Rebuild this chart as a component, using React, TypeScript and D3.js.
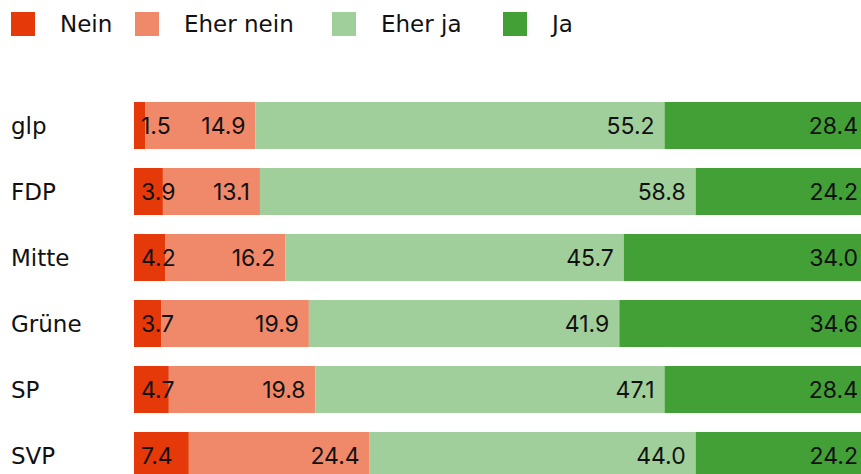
import React, { useEffect, useRef } from "react";
import * as d3 from "d3";

const parties = ["glp", "FDP", "Mitte", "Grüne", "SP", "SVP"];
const answers = ["Nein", "Eher nein", "Eher ja", "Ja"];
const colors = ["#e5390a", "#f0896a", "#a1cf9b", "#42a037"];

const nein = [1.5, 3.9, 4.2, 3.7, 4.7, 7.4];
const eherNein = [14.9, 13.1, 16.2, 19.9, 19.8, 24.4];
const eherJa = [55.2, 58.8, 45.7, 41.9, 47.1, 44.0];
const ja = [28.4, 24.2, 34.0, 34.6, 28.4, 24.2];

const TEXT_FONT = "'DejaVu Sans', sans-serif";
const NUM_FONT = "Inter, 'Noto Sans', sans-serif";

function StackedBars() {
  const svgRef = useRef<SVGSVGElement>(null);

  useEffect(() => {
    const width = 861;
    const height = 474;
    const svg = d3.select(svgRef.current).attr("width", width).attr("height", height);
    svg.selectAll("*").remove();

    const rows = parties.map((p, i) => ({
      party: p,
      Nein: nein[i],
      "Eher nein": eherNein[i],
      "Eher ja": eherJa[i],
      Ja: ja[i],
    }));

    const stack = d3.stack<any>().keys(answers)(rows);

    // the original chart is wider than the window, so the bars run off the right edge
    const x = d3.scaleLinear().domain([0, 100]).range([134, 875]);
    const y = d3
      .scaleBand()
      .domain(parties)
      .range([92.5, 92.5 + parties.length * 66])
      .paddingInner(19 / 66)
      .paddingOuter(19 / 132);

    // legend (item positions taken from the reference layout)
    const legendX = d3.scaleOrdinal<string, number>().domain(answers).range([11, 135, 332, 503]);
    const legend = svg.append("g").attr("font-family", TEXT_FONT).attr("font-size", 23);
    answers.forEach((a, i) => {
      legend
        .append("rect")
        .attr("x", legendX(a))
        .attr("y", 12)
        .attr("width", 24)
        .attr("height", 24)
        .attr("fill", colors[i]);
      legend
        .append("text")
        .attr("x", legendX(a) + 49)
        .attr("y", 32)
        .attr("fill", "#111")
        .text(a);
    });

    // party labels
    svg
      .append("g")
      .selectAll("text")
      .data(parties)
      .enter()
      .append("text")
      .attr("x", 11)
      .attr("y", (d) => (y(d) as number) + y.bandwidth() / 2)
      .attr("dy", "0.36em")
      .attr("font-family", TEXT_FONT)
      .attr("font-size", 23)
      .attr("fill", "#111")
      .text((d) => d);

    // bars
    const layers = svg
      .append("g")
      .selectAll("g")
      .data(stack)
      .enter()
      .append("g")
      .attr("fill", (_, i) => colors[i]);

    layers
      .selectAll("rect")
      .data((d) => d)
      .enter()
      .append("rect")
      .attr("x", (d) => x(d[0]))
      .attr("y", (d) => y(d.data.party) as number)
      .attr("width", (d) => x(d[1]) - x(d[0]))
      .attr("height", y.bandwidth());

    // value labels
    stack.forEach((layer, li) => {
      svg
        .append("g")
        .selectAll("text")
        .data(layer)
        .enter()
        .append("text")
        .attr("x", (d) => {
          if (li === 0) return x(d[0]) + 7;
          const end = Math.min(x(d[1]), width);
          return end - (li === answers.length - 1 ? 3 : 10);
        })
        .attr("y", (d) => (y(d.data.party) as number) + y.bandwidth() / 2)
        .attr("dy", "0.36em")
        .attr("text-anchor", li === 0 ? "start" : "end")
        .attr("font-family", NUM_FONT)
        .attr("font-size", 23)
        .attr("fill", "#111")
        .text((d) => (d[1] - d[0]).toFixed(1));
    });
  }, []);

  return <svg ref={svgRef} style={{ position: "absolute", left: 0, top: 0 }}></svg>;
}

export default function App() {
  return <StackedBars />;
}
